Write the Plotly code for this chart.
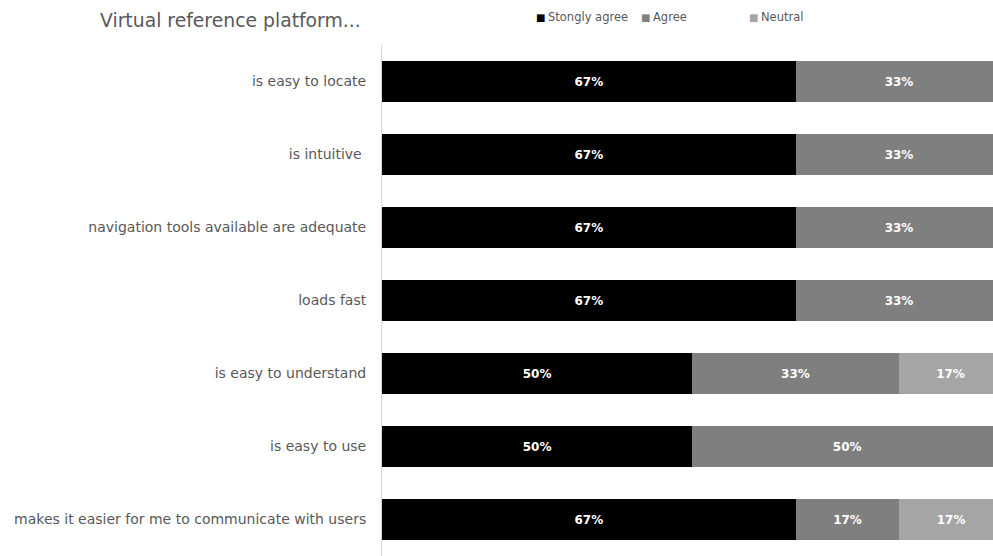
import plotly.graph_objects as go

categories = [
    "is easy to locate",
    "is intuitive ",
    "navigation tools available are adequate",
    "loads fast",
    "is easy to understand",
    "is easy to use",
    "makes it easier for me to communicate with users",
]
strongly_agree = [66.7, 66.7, 66.7, 66.7, 50.0, 50.0, 66.7]
agree = [33.3, 33.3, 33.3, 33.3, 33.3, 50.0, 16.7]
neutral = [None, None, None, None, 16.7, None, 16.7]

series_names = ["Stongly agree", "Agree", "Neutral"]
series_values = [strongly_agree, agree, neutral]
series_colors = ["#000000", "#7f7f7f", "#a5a5a5"]

FONT = "DejaVu Sans, sans-serif"
W, H = 993, 556
ML = 382
PW = W - ML

fig = go.Figure()
for name, vals, color in zip(series_names, series_values, series_colors):
    fig.add_trace(go.Bar(
        y=categories, x=vals, name=name, orientation="h",
        marker=dict(color=color, line=dict(width=0)),
        texttemplate="<b>%{x:.0f}%</b>", textposition="inside", insidetextanchor="middle",
        textfont=dict(color="#ffffff", size=12, family=FONT),
        hoverinfo="skip", showlegend=False,
    ))

# custom legend (small square + label), positioned in pixels
legend_sq_px = [540, 645, 753]
annotations = []
for name, color, px in zip(series_names, series_colors, legend_sq_px):
    annotations.append(dict(
        xref="paper", yref="paper", x=(px - ML) / PW, y=1 + (45 - 17) / (H - 45),
        xanchor="center", yanchor="middle", showarrow=False,
        text="■", font=dict(size=10, color=color, family=FONT),
    ))
    annotations.append(dict(
        xref="paper", yref="paper", x=(px + 6 - ML) / PW, y=1 + (45 - 17) / (H - 45),
        xanchor="left", yanchor="middle", showarrow=False,
        text=name, font=dict(size=11.5, color="#595959", family=FONT),
    ))

fig.update_layout(
    barmode="stack",
    bargap=0.45,
    width=W, height=H,
    margin=dict(l=ML, r=0, t=45, b=0),
    paper_bgcolor="white", plot_bgcolor="white",
    font=dict(family=FONT, size=12, color="#595959"),
    title=dict(text="Virtual reference platform...", x=100 / W, xanchor="left", xref="container",
               y=1 - 20 / H, yanchor="middle", yref="container",
               font=dict(size=18.8, color="#595959", family=FONT)),
    showlegend=False,
    annotations=annotations,
    xaxis=dict(range=[0, 98.5], visible=False, showgrid=False, zeroline=False),
    yaxis=dict(autorange="reversed", showline=True, linecolor="#d9d9d9", linewidth=1,
               ticks="", ticklabelstandoff=12, showgrid=False,
               tickfont=dict(size=14, color="#595959", family=FONT)),
    uniformtext=dict(minsize=8, mode="show"),
)

fig.write_html("out.html")
